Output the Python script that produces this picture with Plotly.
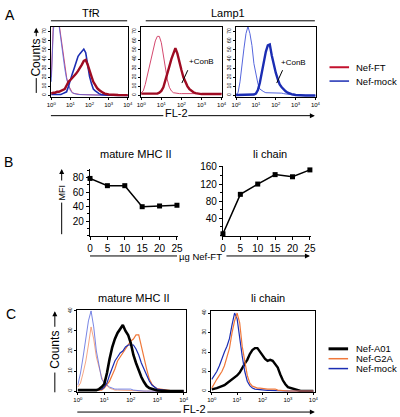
import plotly.graph_objects as go

W, H = 400, 417
def PX(x): return x / W
def PY(y): return 1 - y / H

FONT = "Liberation Sans, Arial, sans-serif"

# ---------------- data ----------------
# FL-2 intensity bins (shared by all histograms)
fl2_bins = [1, 1.26, 1.58, 2.0, 2.51, 3.16, 3.98, 5.01, 6.31, 7.94,
            10, 12.6, 15.8, 20.0, 25.1, 31.6, 39.8, 50.1, 63.1, 79.4,
            100, 126, 158, 200, 251, 316, 398, 501, 631, 794,
            1000, 3162, 10000]
fl2_ticks = [1, 10, 100, 1000, 10000]
fl2_ticktext = ["10<sup>0</sup>", "10<sup>1</sup>", "10<sup>2</sup>", "10<sup>3</sup>", "10<sup>4</sup>"]

# Panel A - TfR
tfr_iso_ft = [20, 76, 90, 95, 80, 65, 49, 33, 20, 11, 6, 3, 2, 2, 1.5, 1, 1, 1, 1, 1,
              0.8, 0.6, 0.5, 0.4, 0.3, 0.3, 0.2, 0.2, 0.2, 0.2, 0.2, 0, 0]
tfr_iso_mock = [15, 70, 88, 92, 78, 60, 45, 30, 18, 10, 5, 3, 2, 1.5, 1, 1, 1, 0.8, 0.8, 0.6,
                0.5, 0.5, 0.4, 0.3, 0.3, 0.2, 0.2, 0.2, 0.1, 0.1, 0.1, 0, 0]
tfr_mock = [1, 1, 1, 1, 1, 1, 2, 3, 4, 10, 18, 24, 30, 36, 43, 46, 49, 51, 47, 33,
            21, 13, 7, 5, 3, 2, 1, 0.5, 0.5, 0.3, 0.2, 0, 0]
tfr_ft = [2, 3, 3, 4, 4, 5, 6, 7, 11, 15, 17, 19, 21, 24, 27, 30, 34, 38, 39, 34,
          26, 21, 15, 11, 8, 6, 4, 3, 2, 1.5, 1, 0.5, 0.3]
# Panel A - Lamp1
lamp_iso_ft = [3, 5, 12, 22, 33, 42, 52, 60, 65, 65, 58, 45, 30, 17, 9, 5, 3, 2.5, 2, 2,
               2, 2, 2, 2, 2, 2, 2, 2, 2, 2, 2, 2, 2]
lamp_ft = [2, 2, 2, 2, 2, 2, 2, 2, 2, 3, 5, 9, 16, 23, 32, 40, 47, 52, 46, 36,
           28, 20, 14, 10, 7, 5, 3.5, 2.5, 2, 1.5, 1.5, 1.5, 1.5]
lamp_iso_mock = [1, 3, 15, 38, 52, 68, 76, 68, 55, 35, 22, 13, 7, 5, 4, 3, 3, 2.5, 2.5, 2.5,
                 2.5, 3, 3, 2.5, 2, 1.5, 1, 0.5, 0.3, 0.3, 0.3, 0, 0]
lamp_mock = [0.5, 0.5, 0.5, 0.5, 0.5, 0.5, 0.5, 0.5, 0.5, 1, 2, 6, 14, 25, 38, 48, 55, 56, 44, 33,
             25, 18, 12, 9, 6.5, 4.5, 3, 2, 1.5, 1, 0.5, 0, 0]

# Panel B
dose_ug = [0, 5, 10, 15, 20, 25]
mhc_mfi = [79, 69, 69, 40, 41, 42]
ii_mfi = [4, 96, 120, 142, 137, 153]

# Panel C - mature MHC II
mhc_iso_mock = [3, 9, 17, 27, 35, 40, 32, 20, 12, 6, 4, 3, 2, 1.5, 1, 1, 1, 1, 1, 1,
                1, 0.5, 0.3, 0.2, 0, 0, 0, 0, 0, 0, 0, 0, 0]
mhc_iso_g2a = [2, 4, 9, 15, 23, 32, 26, 17, 12, 7, 4, 2.5, 1.5, 1, 0.5, 0.5, 0.5, 0.5, 0.3, 0.3,
               0.3, 0.2, 0.2, 0, 0, 0, 0, 0, 0, 0, 0, 0, 0]
mhc_a01 = [0.5, 0.5, 0.5, 0.5, 0.5, 0.5, 0.5, 0.5, 1, 2, 3.5, 9, 16, 22, 26, 29, 31, 33, 30, 28,
           24, 18, 14, 10, 7, 4.5, 2.5, 1.5, 1, 0.5, 0.3, 0, 0]
mhc_g2a = [0.3, 0.3, 0.3, 0.3, 0.3, 0.3, 0.3, 0.3, 0.3, 0.5, 1.5, 3, 5, 8, 11, 15, 17, 19, 21, 23,
           25, 26, 28, 28, 22, 17, 11, 6, 3.5, 2, 1.2, 0.2, 0]
mhc_mock = [0.5, 0.5, 0.5, 0.5, 0.5, 0.5, 0.5, 0.5, 0.5, 0.8, 2, 4, 8, 12, 15, 17, 19, 20, 22, 23,
            23, 23, 21, 18, 14, 11, 7.5, 5, 3, 1.8, 1, 0, 0]
# Panel C - Ii chain
ii_mock = [6, 8, 10, 13, 17, 20, 23, 27, 34, 40, 37, 27, 18, 10, 5, 2.8, 1.5, 1, 0.8, 0.6,
           0.5, 0.4, 0.3, 0.3, 0.2, 0.2, 0.1, 0, 0, 0, 0, 0, 0]
ii_g2a = [1.5, 4, 6, 8, 10, 13, 17, 22, 30, 36, 40, 35, 23, 15, 8, 4, 2.5, 2, 1.5, 1.5,
          1.2, 1, 1, 1, 1, 1, 0.5, 0.3, 0.2, 0, 0, 0, 0]
ii_a01 = [0.8, 1, 1.5, 2, 2.5, 3, 4, 5, 6, 7, 8, 9.5, 12, 14, 16, 19, 21, 22, 22, 20,
          18, 16.5, 15.5, 16, 15.5, 14, 12, 8.5, 5.5, 3.5, 2, 0, 0]

# ---------------- styles ----------------
RED = "#9e0b22"
RED_THIN = "#d4486e"
RED_LEG = "#c3122e"
BLUE = "#1b2db3"
BLUE_THIN = "#5566dd"
ORANGE = "#f0783a"
ORANGE_THIN = "#f39064"
BLACK = "#000000"

fig = go.Figure()

def axname(i):
    return ("x" if i == 1 else "x%d" % i), ("y" if i == 1 else "y%d" % i)

def hist(i, ys, color, width):
    xa, ya = axname(i)
    fig.add_trace(go.Scatter(x=fl2_bins, y=ys, mode="lines", xaxis=xa, yaxis=ya,
                             line=dict(color=color, width=width), showlegend=False,
                             hoverinfo="skip"))

# Panel A traces
hist(1, tfr_iso_ft, RED_THIN, 1)
hist(1, tfr_iso_mock, BLUE_THIN, 0.8)
hist(1, tfr_mock, BLUE, 1.6)
hist(1, tfr_ft, RED, 2.4)
hist(2, lamp_iso_ft, RED_THIN, 1)
hist(2, lamp_ft, RED, 2.4)
hist(3, lamp_iso_mock, BLUE_THIN, 1)
hist(3, lamp_mock, BLUE, 2.4)
# Panel C traces
hist(6, mhc_iso_g2a, ORANGE_THIN, 0.8)
hist(6, mhc_iso_mock, BLUE_THIN, 0.8)
hist(6, mhc_g2a, ORANGE, 1.2)
hist(6, mhc_mock, BLUE, 1.2)
hist(6, mhc_a01, BLACK, 2.6)
hist(7, ii_a01, BLACK, 2.4)
hist(7, ii_mock, BLUE, 1.2)
hist(7, ii_g2a, ORANGE, 1.2)

# Panel B traces
for i, vals in ((4, mhc_mfi), (5, ii_mfi)):
    xa, ya = axname(i)
    fig.add_trace(go.Scatter(x=dose_ug, y=vals, mode="lines+markers", xaxis=xa, yaxis=ya,
                             line=dict(color="black", width=1.5),
                             marker=dict(symbol="square", size=5, color="black"),
                             cliponaxis=False, showlegend=False))

# ---------------- axes ----------------
layout_axes = {}
def dom_x(a, b): return [PX(a), PX(b)]
def dom_y(top, bottom): return [PY(bottom), PY(top)]

hist_boxes = {
    1: ((48, 127), (22, 93), [-0.02, 4.02], [-1.6, 75.6], 10),
    2: ((140, 223), (22, 93), [-0.02, 4.02], [-1.6, 75.6], 10),
    3: ((237, 319), (22, 93), [-0.02, 4.02], [-1.6, 75.6], 10),
    6: ((75, 186), (309, 392), [-0.02, 4.08], [-0.6, 40.3], 10),
    7: ((212, 318), (310, 392), [-0.02, 4.06], [-0.66, 40.9], 10),
}
for i, (xd, yd, xr, yr, dy) in hist_boxes.items():
    xk = "xaxis" if i == 1 else "xaxis%d" % i
    yk = "yaxis" if i == 1 else "yaxis%d" % i
    xa, ya = axname(i)
    layout_axes[xk] = dict(domain=dom_x(*xd), anchor=ya, type="log", range=xr,
                           tickvals=fl2_ticks, ticktext=fl2_ticktext,
                           showline=True, mirror=True, linecolor="black", linewidth=1,
                           ticks="outside", ticklen=2, tickwidth=0.8, tickcolor="black",
                           showgrid=False, zeroline=False,
                           tickfont=dict(size=6, family=FONT, color="black"))
    layout_axes[yk] = dict(domain=dom_y(*yd), anchor=xa, range=yr, dtick=dy, tick0=0,
                           showline=True, mirror=True, linecolor="black", linewidth=1,
                           ticks="outside", ticklen=2, tickwidth=0.8, tickcolor="black",
                           showgrid=False, zeroline=False, tickangle=-90,
                           tickfont=dict(size=5, family=FONT, color="black"))

b_axes = {
    4: ((88, 178), (166, 233.5), [0, 92], 20, 10),
    5: ((224, 314), (163, 233.3), [0, 162], 40, 20),
}
for i, (xd, yd, yr, dy, mdy) in b_axes.items():
    xk = "xaxis%d" % i
    yk = "yaxis%d" % i
    xa, ya = axname(i)
    layout_axes[xk] = dict(domain=dom_x(*xd), anchor=ya, range=[0, 25.3],
                           tickvals=dose_ug, showline=True, linecolor="black", linewidth=1.2,
                           ticks="outside", ticklen=3, tickcolor="black",
                           showgrid=False, zeroline=False,
                           tickfont=dict(size=10, family=FONT, color="black"))
    layout_axes[yk] = dict(domain=dom_y(*yd), anchor=xa, range=yr,
                           tickvals=[v for v in range(dy, int(yr[1]) + 1, dy)],
                           showline=True, linecolor="black", linewidth=1.2,
                           ticks="outside", ticklen=3, tickcolor="black",
                           minor=dict(dtick=mdy, ticks="outside", ticklen=2, tickcolor="black"),
                           showgrid=False, zeroline=False,
                           tickfont=dict(size=10, family=FONT, color="black"))

# ---------------- annotations & shapes ----------------
ann = []
shapes = []

def text(x, y, s, size=11, angle=0, xanchor="center"):
    ann.append(dict(x=PX(x), y=PY(y), xref="paper", yref="paper", text=s, showarrow=False,
                    textangle=angle, xanchor=xanchor, yanchor="middle",
                    font=dict(size=size, family=FONT, color="black")))

def line(x0, y0, x1, y1, color="black", width=1):
    shapes.append(dict(type="line", xref="paper", yref="paper",
                       x0=PX(x0), y0=PY(y0), x1=PX(x1), y1=PY(y1),
                       line=dict(color=color, width=width)))

def arrow(x_tail, y_tail, x_tip, y_tip):
    ann.append(dict(x=PX(x_tip), y=PY(y_tip), xref="paper", yref="paper", text="",
                    showarrow=True, arrowhead=2, arrowsize=1, arrowwidth=1,
                    arrowcolor="black", ax=x_tail - x_tip, ay=y_tail - y_tip))

# panel letters
text(6, 10, "A", 14)
text(5, 159, "B", 14)
text(7, 313, "C", 14)

# panel A headers
text(89, 8, "TfR", 11)
line(48, 16, 126, 16)
text(229, 8, "Lamp1", 11)
line(145, 16, 318, 16)

# Counts (A)
arrow(33, 33, 33, 23)
text(33, 53, "Counts", 12, -90)
line(33, 74, 33, 89)
# FL-2 (A)
line(48, 112, 163, 112)
text(176, 109, "FL-2", 11)
arrow(190, 112, 318, 112)

# +ConB labels
text(202, 57, "+ConB", 8)
line(188, 66, 182, 79)
text(296, 58, "+ConB", 8)
line(285, 66, 279, 79)

# legend A
line(333, 63, 353, 63, RED_LEG, 2)
text(358, 63, "Nef-FT", 9.5, xanchor="left")
line(333, 77, 353, 77, BLUE, 1.5)
text(358, 77, "Nef-mock", 9.5, xanchor="left")

# panel B
text(135, 151, "mature MHC II", 11)
text(272, 151, "li chain", 11)
arrow(59, 179, 59, 166)
text(59, 190, "MFI", 9, -90)
line(59, 200, 59, 232)
line(88, 254, 177, 254)
text(201, 254.5, "µg Nef-FT", 9.5)
arrow(228, 254, 313, 254)

# panel C
text(133, 297, "mature MHC II", 11)
text(270, 297, "li chain", 11)
arrow(52, 327, 52, 310)
text(52, 349, "Counts", 12, -90)
line(52, 372, 52, 392)
line(75, 412, 181, 412)
text(195, 409, "FL-2", 11)
arrow(209, 412, 318, 412)

# legend C
line(332, 348, 352, 348, BLACK, 3)
text(358, 348, "Nef-A01", 9.5, xanchor="left")
line(332, 358, 352, 358, ORANGE, 1.5)
text(358, 358, "Nef-G2A", 9.5, xanchor="left")
line(332, 368, 352, 368, BLUE, 1.5)
text(358, 368, "Nef-mock", 9.5, xanchor="left")

fig.update_layout(width=W, height=H, margin=dict(l=0, r=0, t=0, b=0),
                  paper_bgcolor="white", plot_bgcolor="white",
                  showlegend=False, annotations=ann, shapes=shapes,
                  font=dict(family=FONT, color="black"), **layout_axes)

fig.write_html("out.html", config={"displayModeBar": False},
               post_script="document.body.style.margin='0';document.body.style.padding='0';")
